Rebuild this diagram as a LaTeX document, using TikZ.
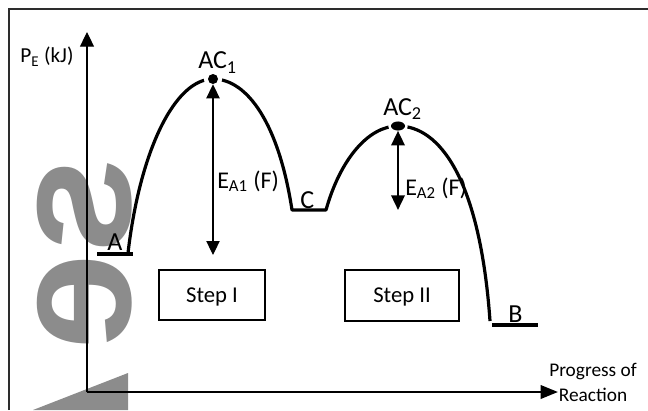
\documentclass[tikz,border=0pt]{standalone}
\usepackage{fontspec}
\setmainfont{Carlito}
\newfontfamily\wmfont{Liberation Sans}
\usetikzlibrary{arrows.meta,shapes.geometric}
\definecolor{wmgray}{RGB}{140,140,140}
\definecolor{framegray}{RGB}{45,45,45}
\begin{document}
\begin{tikzpicture}[x=0.75pt,y=-0.75pt,
  framed/.style={draw=framegray,line width=1.2pt},
  yaxis/.style={line width=0.8pt,-{Triangle[width=10.5pt,length=11pt]}},
  xaxis/.style={line width=1.9pt,-{Triangle[width=10pt,length=13pt]}},
  energy/.style={line width=2.4pt,line join=round},
  level/.style={line width=2.4pt},
  dotone/.style={circle,fill=black,inner sep=0pt,minimum size=7.5pt},
  dottwo/.style={ellipse,fill=black,inner sep=0pt,minimum width=10.5pt,minimum height=6.8pt},
  gapdisc/.style={fill=white},
  thinarrow/.style={line width=0.8pt,{Triangle[width=10pt,length=10.5pt]}-{Triangle[width=10pt,length=10.5pt]}},
  thickarrow/.style={line width=1.8pt,{Triangle[width=10pt,length=11pt]}-{Triangle[width=10pt,length=11pt]}},
  biglabel/.style={inner sep=0pt,anchor=base west,font=\fontsize{19.5pt}{22pt}\selectfont},
  ealabel/.style={inner sep=0pt,anchor=base west,font=\fontsize{18pt}{21pt}\selectfont},
  stepbox/.style={draw,line width=0.8pt,inner sep=0pt,text height=11pt,text depth=0pt,font=\fontsize{17pt}{20pt}\selectfont},
  wmtext/.style={text=wmgray,inner sep=0pt,font=\wmfont\bfseries\fontsize{130pt}{134pt}\selectfont}
]
\useasboundingbox (0,0) rectangle (648,410);
% watermark (mirrored, rotated)
\fill[wmgray] (33,410) -- (128,373) -- (128,410) -- cycle;
\node[wmtext,rotate=90,xscale=-1,anchor=base west] (wm) at (130,157) {se};
% frame
\draw[framed] (9,410) -- (9,9) -- (648,9);
% axes
\coordinate (O) at (87,392);
\coordinate (ytop) at (87,32);
\coordinate (xend) at (558,392);
\draw[yaxis] (O) -- (ytop);
\draw[xaxis] (O) -- (xend);
\node[inner sep=0pt,anchor=base west,font=\fontsize{16pt}{19pt}\selectfont] (pe) at (20,63) {P\textsubscript{E} (kJ)};
\node[inner sep=0pt,anchor=north,align=center,font=\fontsize{14.5pt}{18.75pt}\selectfont] (prog) at (593,363) {Progress of\\Reaction};
% energy profile
\coordinate (a1) at (97,254);
\coordinate (a2) at (133,254);
\coordinate (b1) at (492,325);
\coordinate (b2) at (538,325);
\draw[level] (a1) -- (a2);
\draw[level] (b1) -- (b2);
\draw[energy] (128,253) .. controls (140,150) and (175,79) .. (213,79)
  .. controls (248,79) and (279,125) .. (292,210) -- (326,210)
  .. controls (340,160) and (368,126) .. (398,126)
  .. controls (440,126) and (480,180) .. (490,321);
% dots at the activated complexes
\fill[gapdisc] (213,79) circle[radius=6.8pt];
\fill[gapdisc] (398,126) ellipse[x radius=7.3pt,y radius=5.4pt];
\node[dotone] (ac1) at (213,79) {};
\node[dottwo] (ac2) at (398,126) {};
\coordinate (e1) at (213,255);
\coordinate (e2) at (398,210);
\draw[thinarrow] (ac1.south) -- (e1);
\draw[thickarrow] (ac2.south) -- (e2);
% labels
\node[biglabel] (la) at (107,250) {A};
\node[biglabel] (lac1) at (198,69) {AC\textsubscript{1}};
\node[biglabel] (lc) at (300,208) {C};
\node[biglabel] (lac2) at (383,115) {AC\textsubscript{2}};
\node[biglabel] (lb) at (508,322) {B};
\node[ealabel] (lea1) at (217,188) {E\textsubscript{A1} (F)};
\node[ealabel] (lea2) at (405,195) {E\textsubscript{A2} (F)};
% step boxes
\node[stepbox,minimum width=79.5pt,minimum height=37.5pt] (s1) at (212,295) {Step I};
\node[stepbox,minimum width=85.5pt,minimum height=38.25pt] (s2) at (402,295.5) {Step II};
\end{tikzpicture}
\end{document}
